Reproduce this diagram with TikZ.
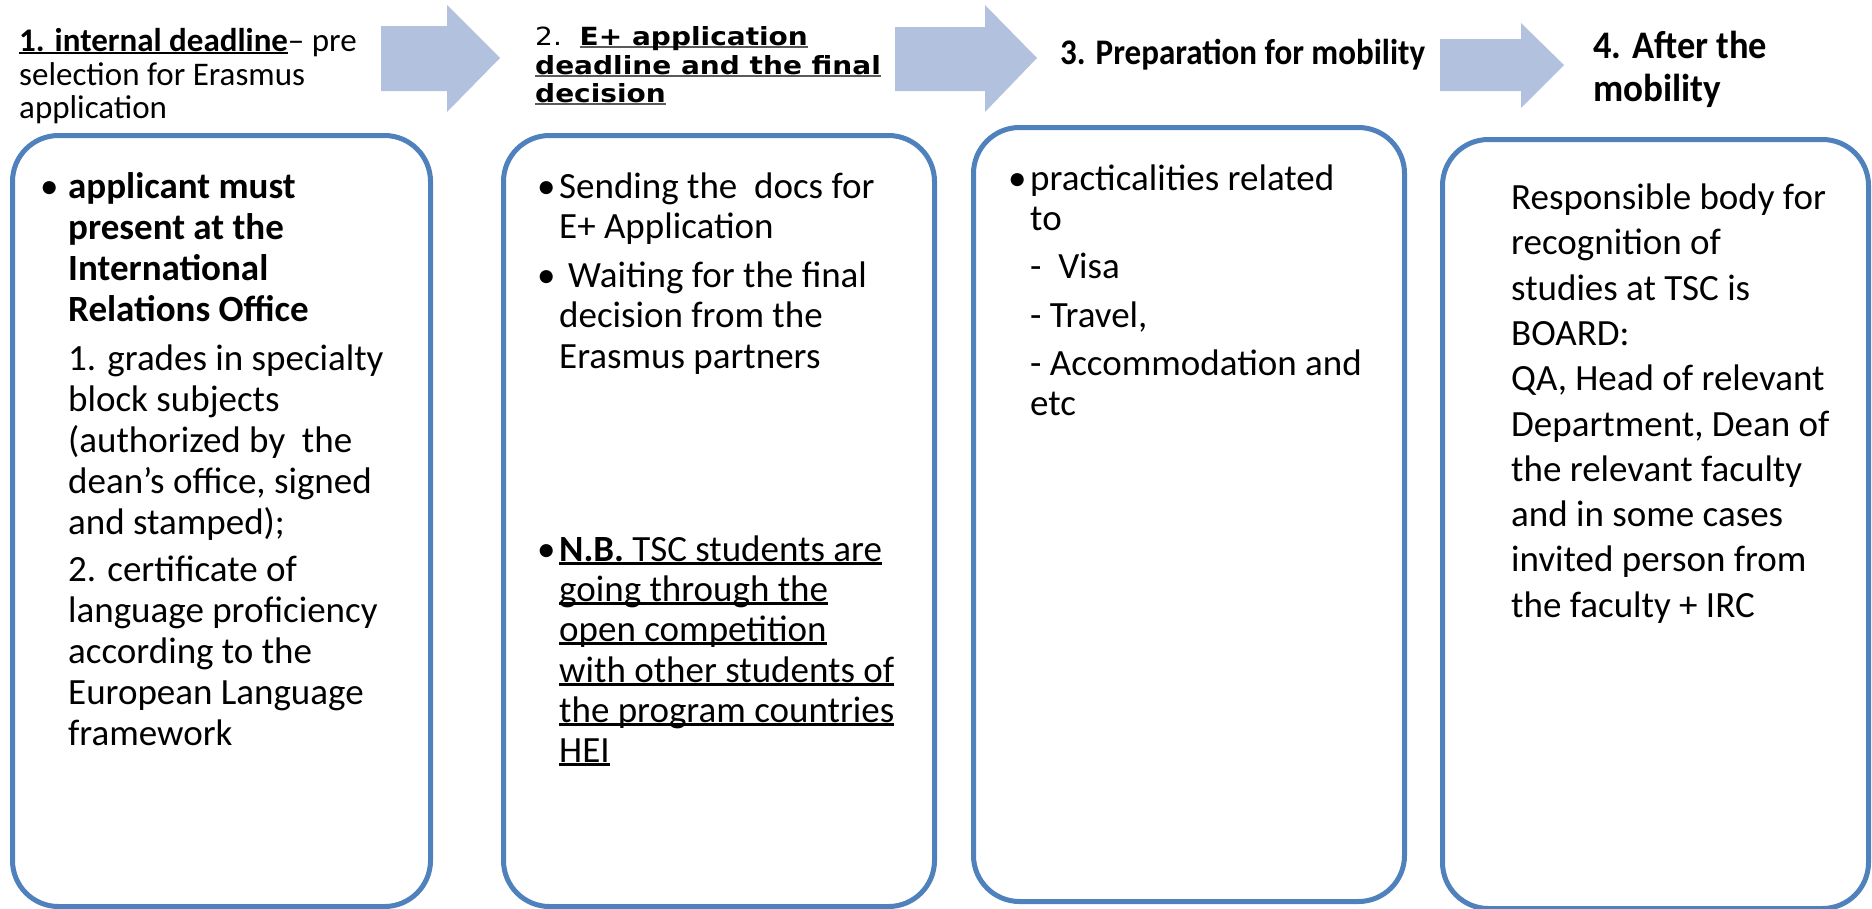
\documentclass[tikz,border=0pt]{standalone}
\usepackage{fontspec}
\usepackage{graphicx}
\setmainfont{Carlito}
\newfontfamily\verd{DejaVu Sans}
\definecolor{boxblue}{RGB}{79,129,189}
\definecolor{arrowblue}{RGB}{178,193,221}
\definecolor{ulgray}{RGB}{90,90,90}
\newsavebox\ulbox
\newcommand\ulx[2][black]{\sbox\ulbox{#2}\rlap{\textcolor{#1}{\rule[-0.1em]{\wd\ulbox}{0.06em}}}\usebox\ulbox}
\begin{document}
\begin{tikzpicture}[x=1pt,y=-1pt,
  box/.style={draw=boxblue, line width=5pt, rounded corners=46pt, fill=white, anchor=north west, inner sep=0pt},
  ln/.style={anchor=base west, inner sep=0pt, font=\fontsize{37}{37}\selectfont},
  hd/.style={anchor=base west, inner sep=0pt},
  blockarrow/.style={fill=arrowblue, draw=none}]

\useasboundingbox (0,0) rectangle (1872,908);

% block arrows
\fill[blockarrow] (381,26) -- (447,26) -- (447,5) -- (500,58) -- (447,112) -- (447,91) -- (381,91) -- cycle;
\fill[blockarrow] (895,27) -- (985,27) -- (985,5) -- (1037,58) -- (985,112) -- (985,91) -- (895,91) -- cycle;
\fill[blockarrow] (1440,39) -- (1521,39) -- (1521,23) -- (1564,65) -- (1521,108) -- (1521,91) -- (1440,91) -- cycle;

% boxes
\node[box, minimum width=418pt, minimum height=771pt] (b1) at (10,133) {};
\node[box, minimum width=431pt, minimum height=771pt] (b2) at (501,133) {};
\node[box, minimum width=431pt, minimum height=774pt] (b3) at (971,125) {};
\node[box, minimum width=426pt, minimum height=769pt] (b4) at (1440,137) {};

% heading 1
\begin{scope}[every node/.style={hd, font=\fontsize{33}{33}\selectfont}]
\node (h1a) at (19,51) {\ulx{\textbf{1. internal deadline}}– pre};
\node (h1b) at (19,85) {selection for Erasmus};
\node (h1c) at (19,118) {application};
\end{scope}

% heading 2
\begin{scope}[every node/.style={hd, font=\verd\fontsize{25}{25}\selectfont}]
\node (h2a) at (535,45) {\scalebox{1.12}[1]{2.\ \ \textbf{\ulx[ulgray]{E+ application}}}};
\node (h2b) at (535,74) {\scalebox{1.12}[1]{\textbf{\ulx[ulgray]{deadline and the final}}}};
\node (h2c) at (535,102) {\scalebox{1.12}[1]{\textbf{\ulx[ulgray]{decision}}}};
\end{scope}

% heading 3
\node[hd, font=\fontsize{36}{36}\selectfont\bfseries] (h3) at (1060,64) {\resizebox{365pt}{\height}{3. Preparation for mobility}};

% heading 4
\begin{scope}[every node/.style={hd, font=\fontsize{39}{39}\selectfont\bfseries}]
\node (h4a) at (1593,58) {\resizebox{174pt}{\height}{4. After the}};
\node (h4b) at (1593,101) {\resizebox{128pt}{\height}{mobility}};
\end{scope}

% box 1 text
\node[ln] (b1u) at (40,198) {•};
\node[ln] (b1t1) at (68,198) {\textbf{applicant must}};
\node[ln] (b1t2) at (68,239) {\textbf{present at the}};
\node[ln] (b1t3) at (68,280) {\textbf{International}};
\node[ln] (b1t4) at (68,321) {\textbf{Relations Office}};
\node[ln] (b1t5) at (68,370) {1. grades in specialty};
\node[ln] (b1t6) at (68,411) {block subjects};
\node[ln] (b1t7) at (68,452) {(authorized by\ \ the};
\node[ln] (b1t8) at (68,493) {dean’s office, signed};
\node[ln] (b1t9) at (68,534) {and stamped);};
\node[ln] (b1t10) at (68,581) {2. certificate of};
\node[ln] (b1t11) at (68,622) {language proficiency};
\node[ln] (b1t12) at (68,663) {according to the};
\node[ln] (b1t13) at (68,704) {European Language};
\node[ln] (b1t14) at (68,745) {framework};

% box 2 text
\node[ln] (b2u1) at (537,198) {•};
\node[ln] (b2t1) at (559,198) {Sending the\ \ docs for};
\node[ln] (b2t2) at (559,238) {E+ Application};
\node[ln] (b2u2) at (537,287) {•};
\node[ln] (b2t3) at (568,287) {Waiting for the final};
\node[ln] (b2t4) at (559,327) {decision from the};
\node[ln] (b2t5) at (559,368) {Erasmus partners};
\node[ln] (b2u3) at (537,561) {•};
\node[ln] (b2t6) at (559,561) {\ulx{\textbf{N.B.} TSC students are}};
\node[ln] (b2t7) at (559,601) {\ulx{going through the}};
\node[ln] (b2t8) at (559,641) {\ulx{open competition}};
\node[ln] (b2t9) at (559,682) {\ulx{with other students of}};
\node[ln] (b2t10) at (559,722) {\ulx{the program countries}};
\node[ln] (b2t11) at (559,762) {\ulx{HEI}};

% box 3 text
\node[ln] (b3u) at (1008,190) {•};
\node[ln] (b3t1) at (1030,190) {practicalities related};
\node[ln] (b3t2) at (1030,230) {to};
\node[ln] (b3t3) at (1030,278) {-\ \ Visa};
\node[ln] (b3t4) at (1030,327) {- Travel,};
\node[ln] (b3t5) at (1030,375) {- Accommodation and};
\node[ln] (b3t6) at (1030,415) {etc};

% box 4 text
\node[ln] (b4t1) at (1511,209) {Responsible body for};
\node[ln] (b4t2) at (1511,254) {recognition of};
\node[ln] (b4t3) at (1511,300) {studies at TSC is};
\node[ln] (b4t4) at (1511,345) {BOARD:};
\node[ln] (b4t5) at (1511,390) {QA, Head of relevant};
\node[ln] (b4t6) at (1511,436) {Department, Dean of};
\node[ln] (b4t7) at (1511,481) {the relevant faculty};
\node[ln] (b4t8) at (1511,526) {and in some cases};
\node[ln] (b4t9) at (1511,571) {invited person from};
\node[ln] (b4t10) at (1511,617) {the faculty + IRC};
\end{tikzpicture}
\end{document}
